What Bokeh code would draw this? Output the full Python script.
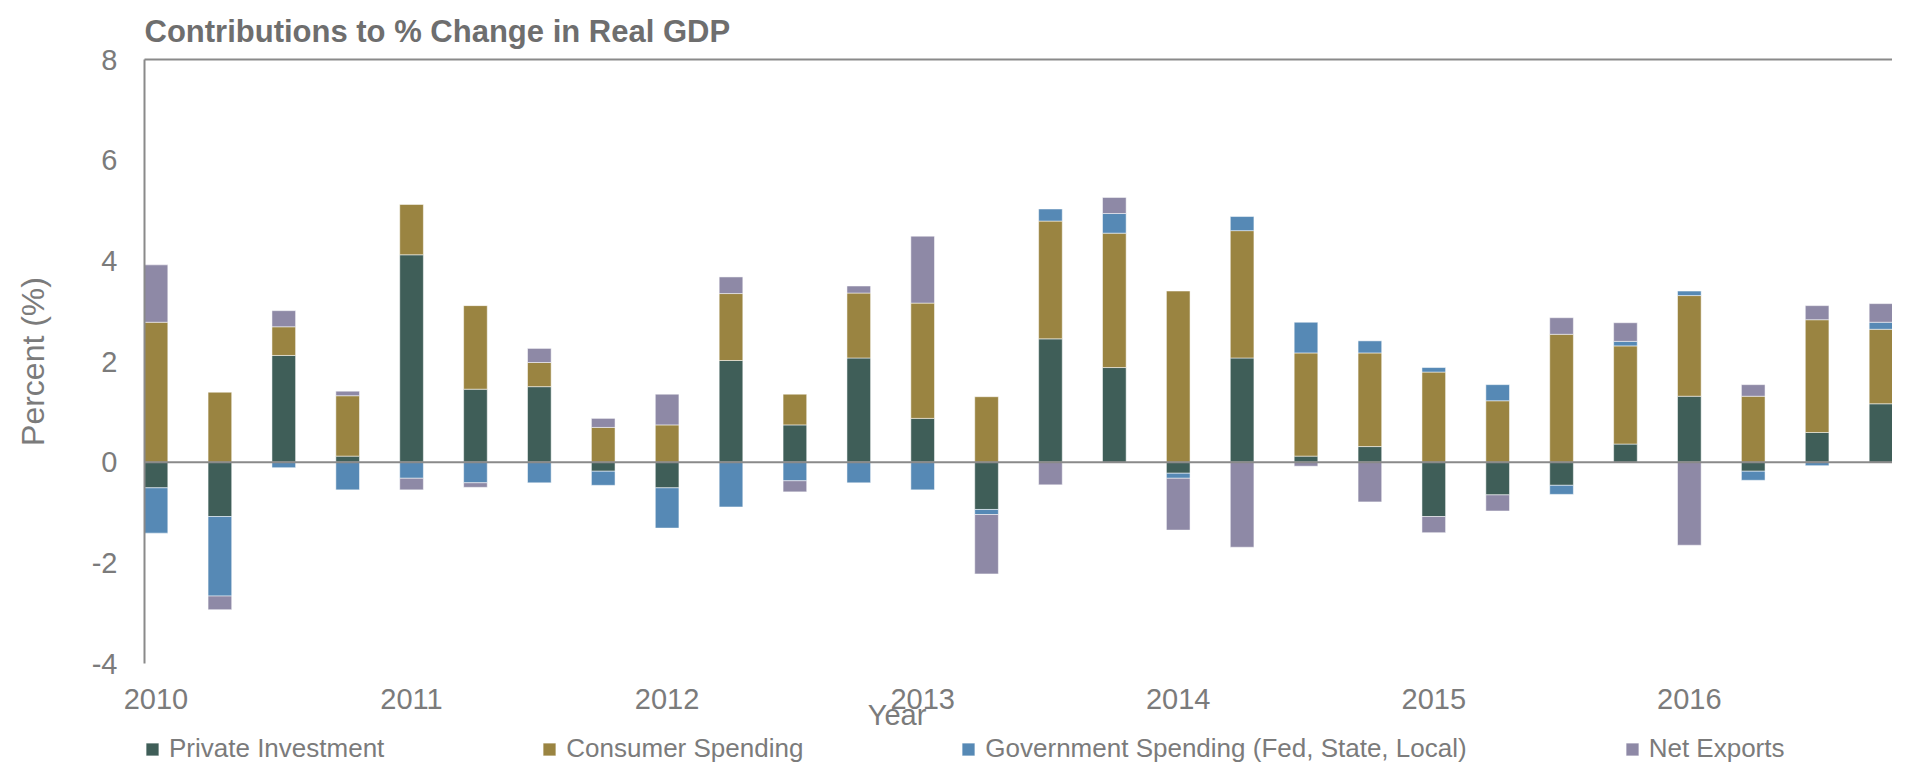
import numpy as np
from bokeh.plotting import figure
from bokeh.layouts import column
from bokeh.models import (ColumnDataSource, FixedTicker, LinearAxis, Span, Legend,
                          LegendItem, Range1d)
from bokeh.embed import file_html
from bokeh.resources import INLINE

# ---------------- data ----------------
title_text = "Contributions to % Change in Real GDP"
x_title = "Year"
y_title = "Percent (%)"
years = ["2010", "2011", "2012", "2013", "2014", "2015", "2016"]
quarters = list(range(28))  # 2010Q1 .. 2016Q4
series_names = ["Private Investment", "Consumer Spending",
                "Government Spending (Fed, State, Local)", "Net Exports"]

private_investment = [-0.51, -1.08, 2.12, 0.12, 4.12, 1.45, 1.50, -0.18,
                      -0.51, 2.02, 0.74, 2.07, 0.87, -0.94, 2.45, 1.88,
                      -0.22, 2.07, 0.12, 0.31, -1.08, -0.65, -0.46, 0.36,
                      1.31, -0.18, 0.59, 1.16]
consumer_spending = [2.78, 1.39, 0.57, 1.20, 1.00, 1.66, 0.48, 0.69,
                     0.74, 1.33, 0.61, 1.29, 2.29, 1.30, 2.34, 2.67,
                     3.40, 2.53, 2.05, 1.86, 1.79, 1.22, 2.54, 1.95,
                     2.00, 1.31, 2.24, 1.48]
government_spending = [-0.90, -1.58, -0.11, -0.55, -0.32, -0.41, -0.41, -0.28,
                       -0.80, -0.89, -0.37, -0.41, -0.55, -0.10, 0.24, 0.39,
                       -0.10, 0.28, 0.61, 0.24, 0.09, 0.32, -0.18, 0.09,
                       0.09, -0.18, -0.07, 0.14]
net_exports = [1.14, -0.27, 0.32, 0.09, -0.23, -0.09, 0.28, 0.18,
               0.61, 0.33, -0.22, 0.14, 1.33, -1.18, -0.45, 0.32,
               -1.03, -1.69, -0.08, -0.79, -0.32, -0.32, 0.33, 0.37,
               -1.65, 0.23, 0.28, 0.37]

colors = ["#3f5e58", "#9a8441", "#5689b5", "#8e89a6"]
y_ticks = [-4, -2, 0, 2, 4, 6, 8]
x_title_pos = 11.6  # position of the "Year" caption along the quarter axis

# ---------------- styling ----------------
FONT = "Liberation Sans"
GRAY = "#7b7b7b"
AXIS_GRAY = "#8a8a8a"
W = 1892
H_MAIN = 733
H_LEG = 29

p = figure(width=W, height=H_MAIN, output_backend="svg", toolbar_location=None,
           x_range=Range1d(-0.18, 27.18), y_range=Range1d(-4, 8),
           min_border_left=144, min_border_right=0, min_border_top=58,
           min_border_bottom=66, title=title_text)
p.outline_line_color = None
p.xgrid.grid_line_color = None
p.ygrid.grid_line_color = None
p.background_fill_color = "white"

p.title.text_font = FONT
p.title.text_font_style = "bold"
p.title.text_font_size = "31px"
p.title.text_color = "#6e6e6e"
p.title.align = "left"
p.title.offset = 0
p.title.standoff = 22

# stacked bars: positives stack upward, negatives downward, in series order
vals = np.array([private_investment, consumer_spending, government_spending, net_exports])
pos = np.clip(vals, 0, None)
neg = np.clip(vals, None, 0)
pos_cum = np.cumsum(pos, axis=0)
neg_cum = np.cumsum(neg, axis=0)

for k, (name, col) in enumerate(zip(series_names, colors)):
    v = vals[k]
    bottom = np.where(v >= 0, pos_cum[k] - pos[k], neg_cum[k] - neg[k])
    top = np.where(v >= 0, pos_cum[k], neg_cum[k])
    src = ColumnDataSource(dict(x=quarters, bottom=bottom, top=top))
    p.vbar(x="x", bottom="bottom", top="top", width=0.37, source=src,
           fill_color=col, line_color="white", line_width=1, line_alpha=0.5)

p.add_layout(Span(location=0, dimension="width", line_color=AXIS_GRAY, line_width=2))

# y axis
ya = p.yaxis[0]
ya.ticker = FixedTicker(ticks=y_ticks)
ya.major_label_overrides = {t: str(t) for t in y_ticks}
ya.major_label_text_font = FONT
ya.major_label_text_font_size = "29px"
ya.major_label_text_color = GRAY
ya.axis_line_color = AXIS_GRAY
ya.axis_line_width = 2
ya.major_tick_line_color = None
ya.minor_tick_line_color = None
ya.major_tick_out = 0
ya.major_tick_in = 0
ya.major_label_standoff = 27
ya.axis_label = y_title
ya.axis_label_text_font = FONT
ya.axis_label_text_font_size = "32px"
ya.axis_label_text_font_style = "normal"
ya.axis_label_text_color = GRAY
ya.axis_label_standoff = 38

# x axis (years)
xa = p.xaxis[0]
xa.ticker = FixedTicker(ticks=[4 * i for i in range(len(years))])
xa.major_label_overrides = {4 * i: y for i, y in enumerate(years)}
xa.major_label_text_font = FONT
xa.major_label_text_font_size = "29px"
xa.major_label_text_color = GRAY
xa.axis_line_color = None
xa.major_tick_line_color = None
xa.minor_tick_line_color = None
xa.major_tick_out = 0
xa.major_tick_in = 0
xa.major_label_standoff = 25

# x axis caption "Year" (placed as in the reference, overlapping the tick row)
xa2 = LinearAxis(ticker=FixedTicker(ticks=[x_title_pos]),
                 major_label_overrides={x_title_pos: x_title},
                 major_label_text_font=FONT, major_label_text_font_size="29px",
                 major_label_text_color=GRAY, axis_line_color=None,
                 major_tick_line_color=None, minor_tick_line_color=None,
                 major_tick_out=0, major_tick_in=0, major_label_standoff=-13)
p.add_layout(xa2, "below")

# top frame line
top_axis = LinearAxis(ticker=FixedTicker(ticks=[]), axis_line_color=AXIS_GRAY,
                      axis_line_width=2, major_tick_line_color=None,
                      minor_tick_line_color=None, major_tick_out=0, major_tick_in=0)
p.add_layout(top_axis, "above")

# ---------------- legend strip ----------------
pl = figure(width=W, height=H_LEG, output_backend="svg", toolbar_location=None,
            x_axis_type=None, y_axis_type=None, x_range=Range1d(0, 1),
            y_range=Range1d(0, 1), min_border=0)
pl.outline_line_color = None
handles = []
for name, col in zip(series_names, colors):
    # zero-height legend handle (nothing visible in the strip itself)
    handles.append(pl.vbar(x=[0.5], bottom=[0], top=[0], width=0.0001, fill_color=col,
                           line_color="white", line_width=1, line_alpha=0.5))

legend = Legend(items=[LegendItem(label=n, renderers=[r]) for n, r in zip(series_names, handles)],
                location=(0, -2), orientation="horizontal", spacing=157,
                padding=0, margin=0, border_line_color=None, background_fill_alpha=0,
                glyph_width=16, glyph_height=16, label_standoff=9,
                label_text_font=FONT, label_text_font_size="26px",
                label_text_color=GRAY)
pl.add_layout(legend, "center")

layout = column(p, pl, spacing=0)
open("out.html", "w").write(file_html(layout, INLINE))
